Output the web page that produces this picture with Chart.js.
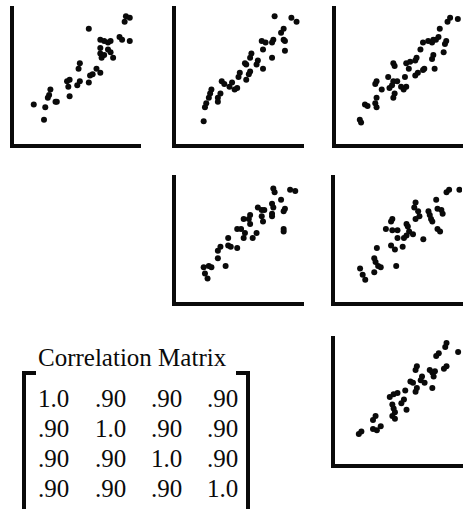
<!DOCTYPE html>
<html>
<head>
<meta charset="utf-8">
<script src="https://cdn.jsdelivr.net/npm/chart.js@4/dist/chart.umd.min.js"></script>
<style>
  html, body { margin: 0; padding: 0; background: #fff; overflow: hidden; }
  body { width: 463px; height: 509px; position: relative; }
  canvas { position: absolute; }
  .txt { position: absolute; font-family: 'Liberation Serif', 'Times New Roman', serif;
         font-size: 25px; line-height: 25px; color: #0a0a0a; white-space: nowrap; }
  .brk { position: absolute; border-color: #0a0a0a; border-style: solid; border-width: 0; }
</style>
</head>
<body>
<script>
// Scatterplot matrix of four variables (upper triangle) with their correlation matrix.

// Variable 1 vs variable 2
const pair12X = [89, 92, 88, 60, 69, 72, 75, 77, 84, 86, 92, 69, 69, 75, 77, 70, 72, 79, 53, 52,
                 66, 69, 61, 63, 43, 45, 44, 53, 51, 60, 30, 29, 28, 45, 34, 35, 17, 26, 25];
const pair12Y = [94, 93, 90, 85, 77, 76, 75, 76, 79, 77, 76, 71, 67, 70, 68, 64, 66, 64, 60, 56,
                 56, 53, 51, 52, 47, 48, 43, 47, 44, 46, 41, 37, 35, 36, 32, 32, 30, 28, 19];

// Variable 1 vs variable 3
const pair13X = [78, 91, 95, 85, 83, 85, 86, 77, 76, 68, 71, 86, 69, 76, 60, 59, 55, 56, 65, 64,
                 69, 51, 50, 59, 58, 56, 45, 43, 37, 39, 49, 47, 29, 28, 36, 34, 27, 25, 24, 34, 23];
const pair13Y = [94, 93, 90, 85, 82, 77, 76, 77, 75, 76, 75, 69, 70, 64, 67, 64, 60, 59, 62, 59,
                 56, 53, 50, 54, 52, 48, 46, 43, 47, 45, 42, 41, 41, 38, 38, 35, 35, 31, 28, 32, 18];

// Variable 1 vs variable 4
const pair14X = [90, 88, 96, 82, 81, 79, 69, 73, 76, 77, 87, 86, 85, 67, 77, 76, 78, 70, 69, 65,
                 63, 56, 59, 63, 64, 46, 47, 58, 42, 46, 45, 49, 55, 33, 32, 37, 43, 56, 54, 52,
                 47, 46, 33, 32, 33, 24, 26, 20, 21];
const pair14Y = [93, 90, 92, 85, 79, 77, 75, 76, 75, 77, 76, 74, 68, 70, 66, 63, 56, 56, 55, 53,
                 51, 60, 61, 62, 64, 60, 58, 56, 50, 47, 44, 47, 50, 47, 45, 41, 42, 43, 41, 43,
                 38, 35, 35, 31, 28, 30, 29, 19, 17];

// Variable 2 vs variable 3
const pair23X = [77, 78, 90, 94, 83, 76, 77, 86, 85, 65, 68, 70, 76, 76, 68, 69, 59, 58, 54, 59,
                 49, 52, 55, 54, 64, 61, 85, 85, 42, 42, 44, 36, 34, 49, 34, 40, 23, 27, 29, 24, 26];
const pair23Y = [91, 88, 90, 89, 82, 79, 76, 75, 73, 76, 74, 74, 71, 69, 69, 65, 70, 67, 67, 63,
                 59, 59, 56, 52, 56, 52, 59, 57, 52, 46, 45, 45, 42, 44, 36, 30, 29, 30, 29, 24, 20];

// Variable 2 vs variable 4
const pair24X = [88, 90, 98, 80, 64, 63, 81, 84, 85, 74, 75, 66, 67, 64, 76, 77, 81, 83, 46, 45,
                 57, 58, 41, 46, 50, 59, 62, 57, 55, 50, 70, 45, 48, 54, 34, 32, 33, 35, 37, 49,
                 32, 21, 23, 25];
const pair24Y = [88, 90, 90, 82, 80, 76, 75, 74, 71, 73, 70, 73, 69, 67, 67, 65, 59, 57, 67, 65,
                 63, 61, 59, 58, 58, 57, 55, 54, 52, 52, 51, 46, 43, 45, 44, 36, 33, 30, 29, 30,
                 25, 28, 23, 19];

// Variable 3 vs variable 4
const pair34X = [88, 87, 82, 80, 97, 88, 86, 65, 64, 75, 77, 79, 78, 69, 68, 60, 62, 65, 64, 71,
                 77, 56, 44, 47, 50, 55, 53, 57, 46, 47, 48, 46, 48, 33, 31, 37, 34, 31, 22, 20];
const pair34Y = [96, 93, 88, 86, 89, 78, 76, 78, 75, 75, 73, 74, 70, 70, 67, 66, 65, 61, 58, 65,
                 61, 59, 54, 56, 57, 52, 49, 44, 48, 45, 42, 39, 37, 39, 36, 31, 28, 29, 27, 25];

const variableNames = ['X1', 'X2', 'X3', 'X4'];
const matrixTitle = 'Correlation Matrix';
const corrMatrix = [
  ['1.0', '.90', '.90', '.90'],
  ['.90', '1.0', '.90', '.90'],
  ['.90', '.90', '1.0', '.90'],
  ['.90', '.90', '.90', '1.0']
];

// Plot-area boxes for each panel (left, top, width, height of the axes frame)
const panels = [
  { xs: pair12X, ys: pair12Y, box: [12, 8, 128, 138] },
  { xs: pair13X, ys: pair13Y, box: [174, 8, 129, 138] },
  { xs: pair14X, ys: pair14Y, box: [334, 8, 129, 138] },
  { xs: pair23X, ys: pair23Y, box: [174, 177, 129, 127] },
  { xs: pair24X, ys: pair24Y, box: [333, 177, 129, 127] },
  { xs: pair34X, ys: pair34Y, box: [333, 338, 129, 128] }
];

const PAD = 5;
const INK = '#0a0a0a';

function axisOptions() {
  return {
    type: 'linear', min: 0, max: 100,
    grid: { display: false, drawTicks: false },
    ticks: { display: false },
    border: { display: true, width: 4, color: INK }
  };
}

panels.forEach((p, i) => {
  const [left, top, w, h] = p.box;
  const cv = document.createElement('canvas');
  cv.width = w + 2 * PAD;
  cv.height = h + 2 * PAD;
  cv.style.left = (left - PAD) + 'px';
  cv.style.top = (top - PAD) + 'px';
  cv.style.width = cv.width + 'px';
  cv.style.height = cv.height + 'px';
  document.body.appendChild(cv);

  new Chart(cv, {
    type: 'scatter',
    data: {
      datasets: [{
        label: variableNames[0],
        data: p.xs.map((x, k) => ({ x: x, y: p.ys[k] })),
        backgroundColor: INK,
        borderWidth: 0,
        pointRadius: 3,
        pointStyle: 'circle'
      }]
    },
    options: {
      responsive: false,
      devicePixelRatio: 1,
      animation: false,
      layout: { autoPadding: false, padding: PAD },
      plugins: { legend: { display: false }, tooltip: { enabled: false } },
      scales: { x: axisOptions(), y: axisOptions() }
    }
  });
});

// Correlation matrix block
function addText(str, left, top) {
  const d = document.createElement('div');
  d.className = 'txt';
  d.textContent = str;
  d.style.left = left + 'px';
  d.style.top = top + 'px';
  document.body.appendChild(d);
}
addText(matrixTitle, 38, 345);
const colLeft = [38, 95, 151, 207];
corrMatrix.forEach((row, r) => {
  row.forEach((val, c) => addText(val, colLeft[c], 386 + r * 30));
});

// Square brackets around the matrix
const lb = document.createElement('div');
lb.className = 'brk';
Object.assign(lb.style, { left: '22px', top: '371px', width: '10px', height: '136px',
  borderLeftWidth: '4px', borderTopWidth: '4px', borderBottomWidth: '4px' });
document.body.appendChild(lb);
const rb = document.createElement('div');
rb.className = 'brk';
Object.assign(rb.style, { left: '236px', top: '371px', width: '10px', height: '136px',
  borderRightWidth: '4px', borderTopWidth: '4px', borderBottomWidth: '4px' });
document.body.appendChild(rb);
</script>
</body>
</html>
